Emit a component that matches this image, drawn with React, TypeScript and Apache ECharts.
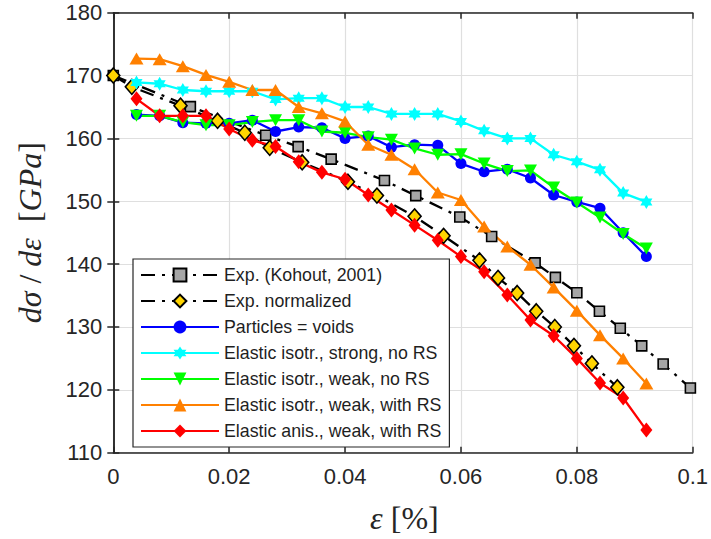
import React, { useEffect, useRef } from 'react';
import * as echarts from 'echarts';

// ---- data ----
const kohoutX = [0, 0.0133, 0.0263, 0.0319, 0.0376, 0.0468, 0.0522, 0.0598, 0.0653, 0.0728, 0.0763, 0.08, 0.0839, 0.0875, 0.0912, 0.0949, 0.0996];
const kohoutY = [170, 165.05, 160.5, 158.7, 156.7, 153.3, 150.9, 147.5, 144.4, 140.2, 137.9, 135.45, 132.5, 129.8, 127.0, 124.1, 120.3];

const normX = [0, 0.0032, 0.0116, 0.018, 0.0227, 0.027, 0.0326, 0.0405, 0.0455, 0.052, 0.057, 0.0632, 0.0664, 0.0697, 0.073, 0.0762, 0.0795, 0.0826, 0.087];
const normY = [170, 168.2, 165.2, 162.8, 160.9, 158.5, 156.2, 153.1, 150.9, 147.6, 144.5, 140.6, 137.8, 135.4, 132.5, 130.0, 127.0, 124.2, 120.4];

const simX = [0.004, 0.008, 0.012, 0.016, 0.02, 0.024, 0.028, 0.032, 0.036, 0.04, 0.044, 0.048, 0.052, 0.056, 0.06, 0.064, 0.068, 0.072, 0.076, 0.08, 0.084, 0.088, 0.092];
const voidsY = [163.8, 163.6, 162.5, 162.4, 162.4, 162.9, 161.1, 161.8, 161.7, 160.0, 160.4, 158.6, 159.0, 158.9, 156.0, 154.7, 155.1, 153.7, 151.0, 149.9, 148.9, 145.0, 141.2];
const strongY = [168.9, 168.7, 167.7, 167.5, 167.5, 167.5, 166.2, 166.4, 166.4, 165.0, 165.0, 163.9, 163.9, 163.9, 162.7, 161.2, 160.0, 160.0, 157.4, 156.3, 155.0, 151.3, 149.9];
const weakNoRsY = [163.6, 163.6, 162.6, 162.1, 162.1, 162.6, 162.9, 162.9, 161.1, 160.9, 160.2, 159.8, 158.4, 157.4, 157.5, 156.0, 154.8, 154.9, 152.2, 149.8, 147.4, 144.8, 142.5];
const weakRsY = [172.7, 172.6, 171.5, 170.1, 169.0, 167.7, 167.7, 165.0, 164.0, 162.7, 159.0, 157.4, 155.1, 151.4, 150.2, 146.0, 142.8, 139.9, 136.3, 132.6, 128.7, 125.0, 121.0];
const anisY = [166.3, 163.6, 163.6, 163.6, 161.5, 159.7, 158.7, 156.3, 154.6, 153.5, 151.0, 148.6, 146.2, 143.8, 141.2, 138.8, 135.1, 131.1, 128.6, 125.0, 121.1, 118.7, 113.6];

const seriesNames = [
  'Exp. (Kohout, 2001)',
  'Exp. normalized',
  'Particles = voids',
  'Elastic isotr., strong, no RS',
  'Elastic isotr., weak, no RS',
  'Elastic isotr., weak, with RS',
  'Elastic anis., weak, with RS',
];

const xTicks = { min: 0, max: 0.1, interval: 0.02 };
const yTicks = { min: 110, max: 180, interval: 10 };

const HEXAGRAM = 'path://M100,0 L128.87,50 L186.6,50 L157.7,100 L186.6,150 L128.87,150 L100,200 L71.13,150 L13.4,150 L42.3,100 L13.4,50 L71.13,50 Z';

const pairs = (xs: number[], ys: number[]) => xs.map((x, i) => [x, ys[i]]);

export default function App() {
  const ref = useRef<HTMLDivElement>(null);
  useEffect(() => {
    if (!ref.current) return;
    const chart = echarts.init(ref.current, undefined, { renderer: 'svg' });
    const axisColor = '#262626';
    const sansFont = '"Liberation Sans", Arial, Helvetica, sans-serif';
    const serifFont = '"Liberation Serif", "Times New Roman", serif';
    const dashDot = [14, 7, 3, 7];
    const lw = 2.3;
    const base = { type: 'line', xAxisIndex: 0, yAxisIndex: 0, showAllSymbol: true, z: 2 };
    chart.setOption({
      animation: false,
      backgroundColor: '#ffffff',
      grid: { left: 113.3, right: 15.5, top: 12.7, bottom: 86.3 },
      xAxis: [
        {
          type: 'value', position: 'bottom', ...xTicks,
          axisLine: { show: true, lineStyle: { color: axisColor, width: 1.5 } },
          axisTick: { show: true, inside: true, length: 6, lineStyle: { color: axisColor, width: 1.5 } },
          axisLabel: { color: axisColor, fontSize: 22, fontFamily: sansFont, margin: 13 },
          splitLine: { show: true, lineStyle: { color: '#dfdfdf', width: 1.2 } },
        },
        {
          type: 'value', position: 'top', ...xTicks,
          axisLine: { show: true, lineStyle: { color: axisColor, width: 1.5 } },
          axisTick: { show: true, inside: true, length: 6, lineStyle: { color: axisColor, width: 1.5 } },
          axisLabel: { show: false },
          splitLine: { show: false },
        },
      ],
      yAxis: [
        {
          type: 'value', position: 'left', ...yTicks,
          axisLine: { show: true, lineStyle: { color: axisColor, width: 1.5 } },
          axisTick: { show: true, inside: true, length: 6, lineStyle: { color: axisColor, width: 1.5 } },
          axisLabel: { color: axisColor, fontSize: 22, fontFamily: sansFont, margin: 11 },
          splitLine: { show: true, lineStyle: { color: '#dfdfdf', width: 1.2 } },
        },
        {
          type: 'value', position: 'right', ...yTicks,
          axisLine: { show: true, lineStyle: { color: axisColor, width: 1.5 } },
          axisTick: { show: true, inside: true, length: 6, lineStyle: { color: axisColor, width: 1.5 } },
          axisLabel: { show: false },
          splitLine: { show: false },
        },
      ],
      legend: {
        orient: 'vertical', left: 133, top: 259,
        itemWidth: 78, itemHeight: 16, itemGap: 8,
        padding: [7, 8, 7, 7],
        borderColor: axisColor, borderWidth: 1.2, backgroundColor: '#ffffff',
        selectedMode: false,
        textStyle: { fontFamily: sansFont, fontSize: 17.8, color: '#1f1f1f' },
        data: seriesNames,
        z: 10,
      },
      graphic: [
        {
          type: 'text', x: 404.4, y: 518, z: 10,
          style: {
            text: '{i|ε} {r|[%]}',
            align: 'center', verticalAlign: 'middle',
            fill: axisColor, fontFamily: serifFont, fontSize: 32,
            rich: {
              i: { fontStyle: 'italic', fontFamily: serifFont, fontSize: 32, fill: axisColor },
              r: { fontFamily: serifFont, fontSize: 32, fill: axisColor },
            },
          },
        },
        {
          type: 'text', x: 30, y: 232.7, rotation: Math.PI / 2, z: 10,
          style: {
            text: '{i|dσ} {r|/} {i|dε}  {r|[}{i|GPa}{r|]}',
            align: 'center', verticalAlign: 'middle',
            fill: axisColor, fontFamily: serifFont, fontSize: 32,
            rich: {
              i: { fontStyle: 'italic', fontFamily: serifFont, fontSize: 32, fill: axisColor },
              r: { fontFamily: serifFont, fontSize: 32, fill: axisColor },
            },
          },
        },
      ],
      series: [
        {
          ...base, name: seriesNames[0], data: pairs(kohoutX, kohoutY),
          symbol: 'rect', symbolSize: 10,
          lineStyle: { color: '#000000', width: lw, type: dashDot },
          itemStyle: { color: '#a6a6a6', borderColor: '#000000', borderWidth: 1.6 },
        },
        {
          ...base, name: seriesNames[1], data: pairs(normX, normY),
          symbol: 'diamond', symbolSize: [13, 15],
          lineStyle: { color: '#000000', width: lw, type: dashDot },
          itemStyle: { color: '#ffd400', borderColor: '#000000', borderWidth: 1.6 },
        },
        {
          ...base, name: seriesNames[2], data: pairs(simX, voidsY),
          symbol: 'circle', symbolSize: 11,
          lineStyle: { color: '#0000ff', width: lw },
          itemStyle: { color: '#0000ff' },
        },
        {
          ...base, name: seriesNames[3], data: pairs(simX, strongY),
          symbol: HEXAGRAM, symbolSize: 14, symbolKeepAspect: true,
          lineStyle: { color: '#00ffff', width: lw },
          itemStyle: { color: '#00ffff' },
        },
        {
          ...base, name: seriesNames[4], data: pairs(simX, weakNoRsY),
          symbol: 'triangle', symbolSize: [13, 12], symbolRotate: 180,
          lineStyle: { color: '#00ff00', width: lw },
          itemStyle: { color: '#00ff00' },
        },
        {
          ...base, name: seriesNames[5], data: pairs(simX, weakRsY),
          symbol: 'triangle', symbolSize: [14, 12],
          lineStyle: { color: '#ff8000', width: lw },
          itemStyle: { color: '#ff8000' },
        },
        {
          ...base, name: seriesNames[6], data: pairs(simX, anisY),
          symbol: 'diamond', symbolSize: [12, 15],
          lineStyle: { color: '#ff0000', width: lw },
          itemStyle: { color: '#ff0000' },
        },
      ],
    });
    return () => chart.dispose();
  }, []);
  return (
    <div
      ref={ref}
      style={{ position: 'fixed', left: 0, top: 0, width: 711, height: 539, background: '#fff' }}
    />
  );
}
